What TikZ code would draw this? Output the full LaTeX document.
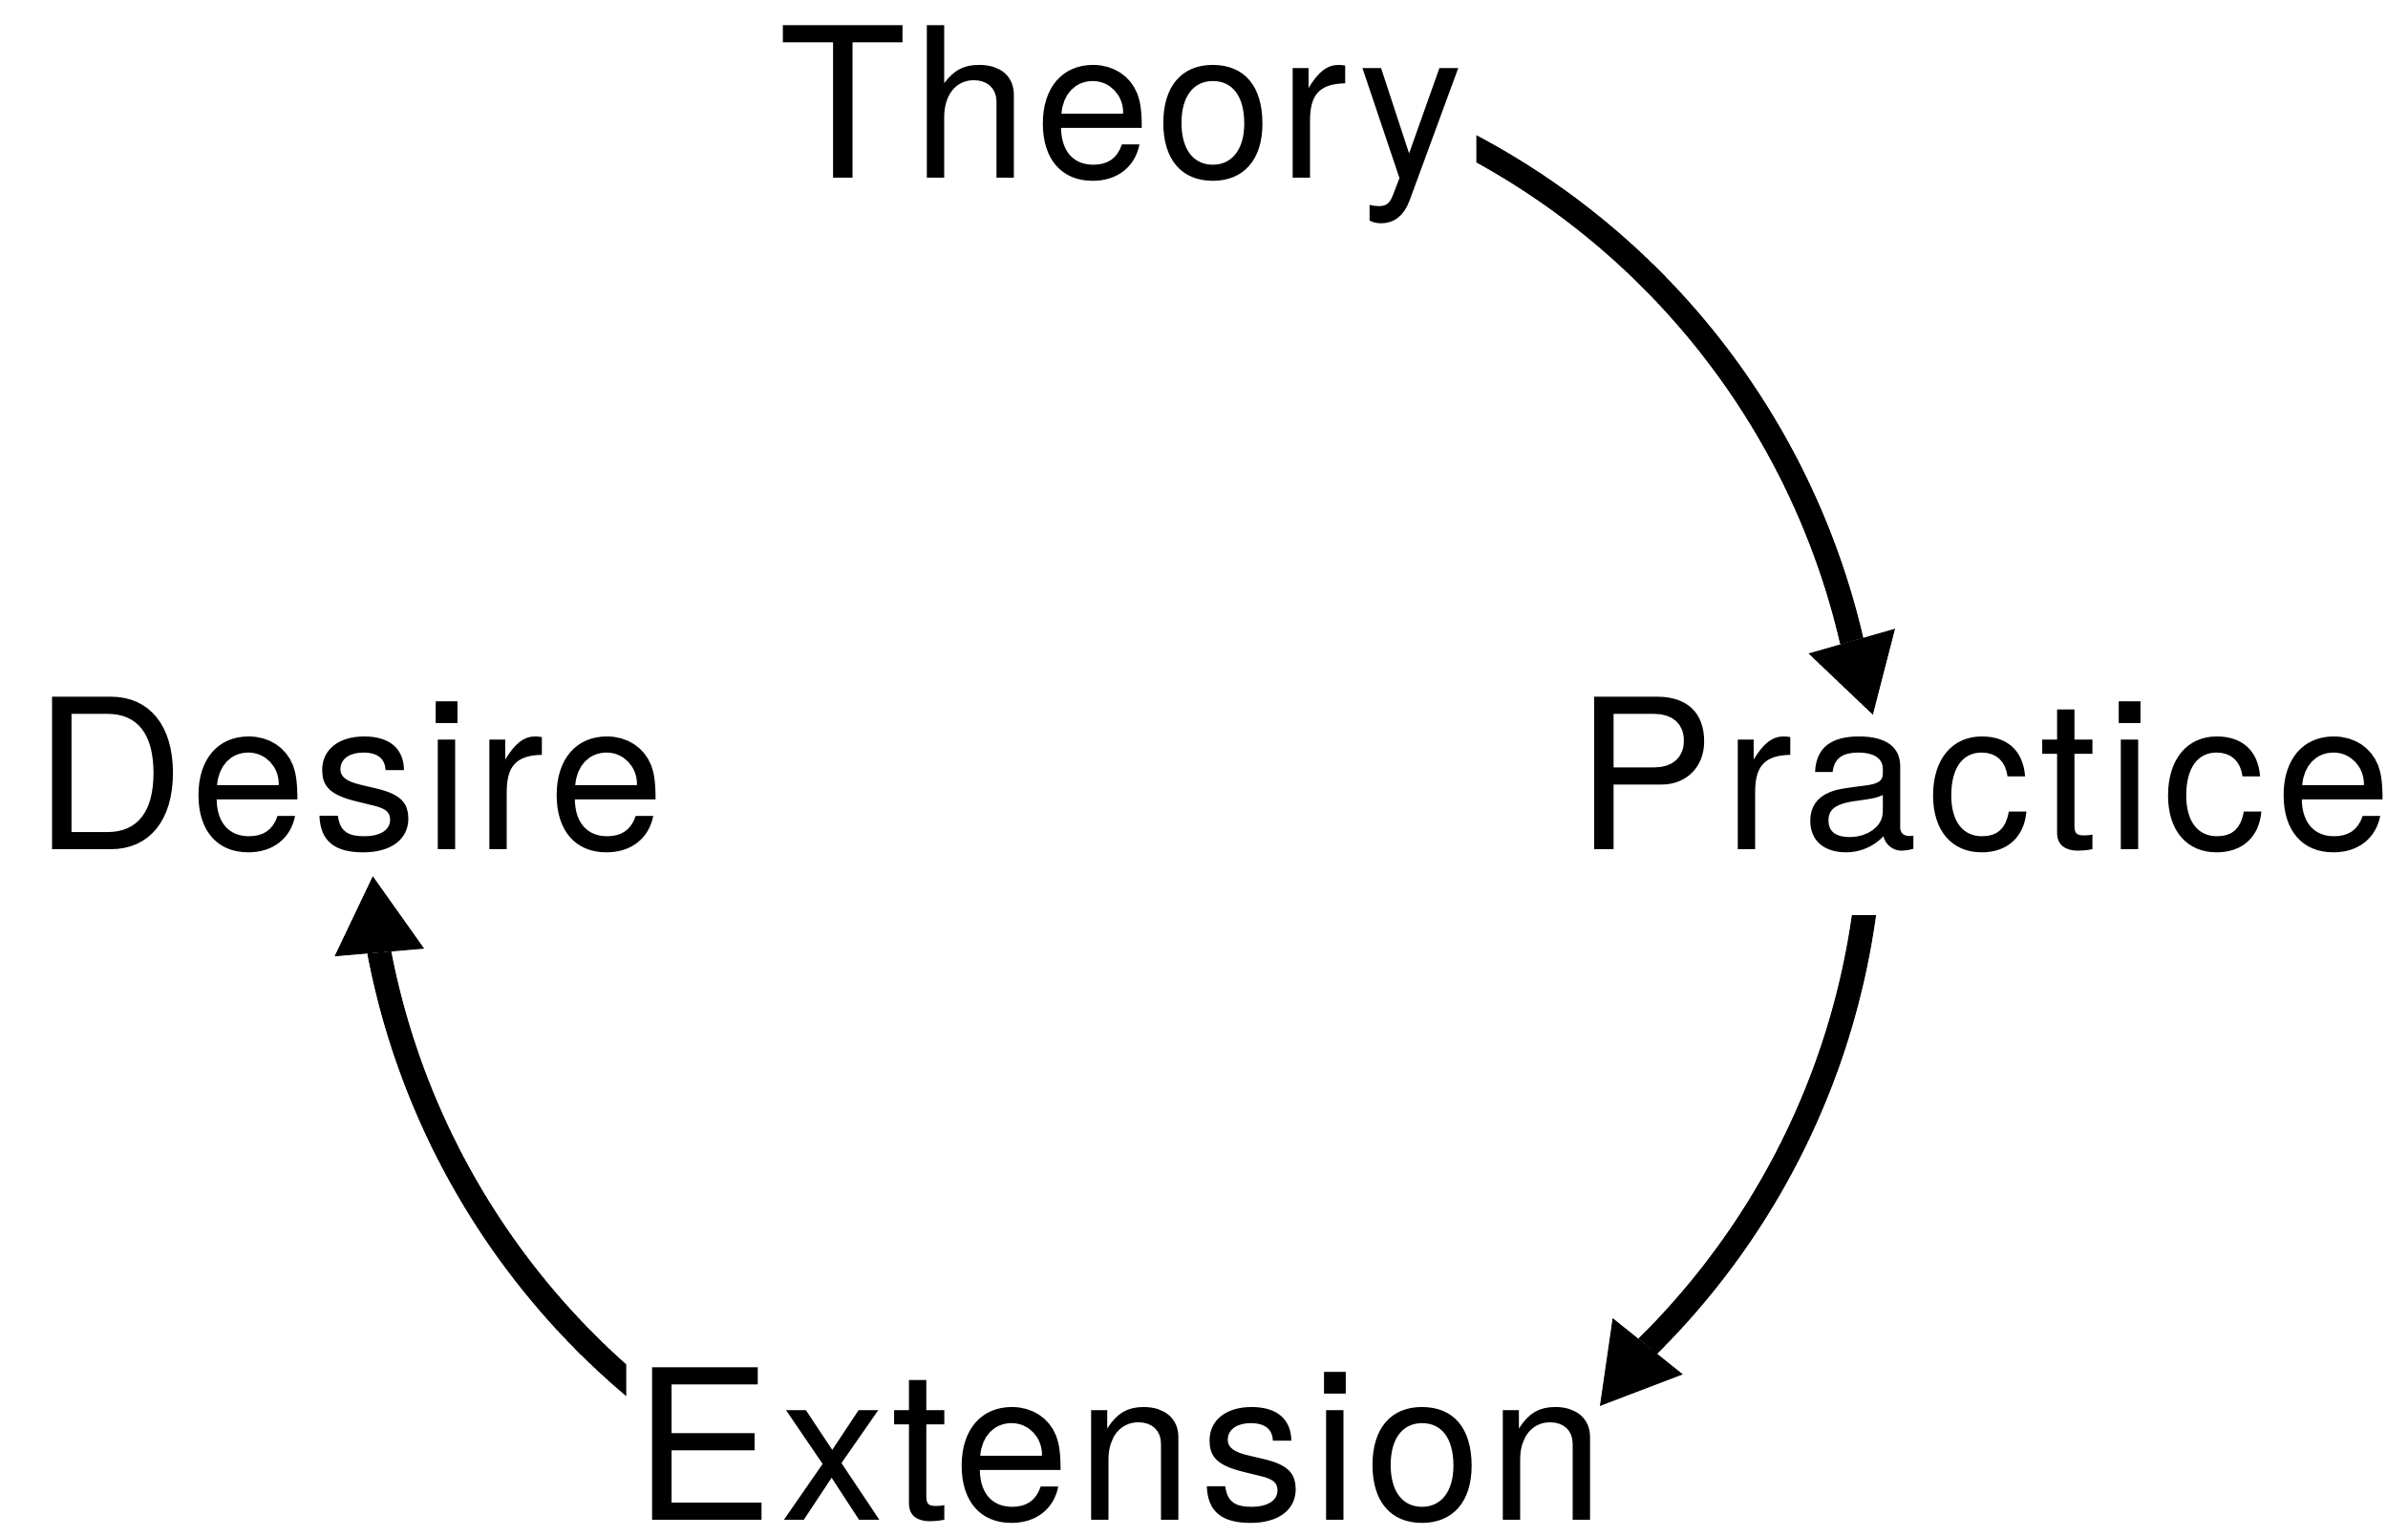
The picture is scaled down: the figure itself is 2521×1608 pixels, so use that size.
\documentclass[tikz,border=0pt]{standalone}
\usepackage{fontspec}
\newfontfamily\labelfont{TeX Gyre Heros}
\usetikzlibrary{arrows.meta,calc}

\tikzset{
  lbl/.style={inner sep=0pt, anchor=base, text depth=0pt,
    font=\labelfont\fontsize{219pt}{260pt}\selectfont\addfontfeatures{LetterSpace=#1}},
  lbl/.default=2.7,
  cyc/.style={line width=25pt, line cap=butt,
    -{Triangle[length=80pt, width=94pt, line width=0pt]}}
}

\begin{document}
\begin{tikzpicture}[x=1pt, y=-1pt]
  \useasboundingbox[fill=white] (0,0) rectangle (2521,1608);

  % the four stages of the cycle
  \node[lbl]     (theory)    at (1174,186.5)  {Theory};
  \node[lbl=4.2] (practice)  at (2077,889)    {Practice};
  \node[lbl=3.3] (extension) at (1172,1591.5) {Extension};
  \node[lbl]     (desire)    at (366,889)     {Desire};

  % all three arrows run on one circle round this point
  \coordinate (hub) at (1171,849);
  \def\ringradius{788}

  % arrow heads
  \coordinate (practice-in)  at (1960.7,748.1);
  \coordinate (extension-in) at (1675,1471.8);
  \coordinate (desire-in)    at (390.3,917.4);

  % Theory -> Practice
  \begin{scope}
    \clip (1545.7,0) rectangle (2521,1608);
    \draw[cyc] ($(hub)+(-63:\ringradius)$) coordinate (theory-out)
      arc[start angle=-63, end angle=-13.1, radius=\ringradius] -- (practice-in);
  \end{scope}

  % Practice -> Extension
  \begin{scope}
    \clip (0,958.3) rectangle (2521,1608);
    \draw[cyc] ($(hub)+(6.5:\ringradius)$) coordinate (practice-out)
      arc[start angle=6.5, end angle=45.3, radius=\ringradius] -- (extension-in);
  \end{scope}

  % Extension -> Desire
  \begin{scope}
    \clip (0,0) rectangle (655.7,1608);
    \draw[cyc] ($(hub)+(129.5:\ringradius)$) coordinate (extension-out)
      arc[start angle=129.5, end angle=169.1, radius=\ringradius] -- (desire-in);
  \end{scope}
\end{tikzpicture}
\end{document}
